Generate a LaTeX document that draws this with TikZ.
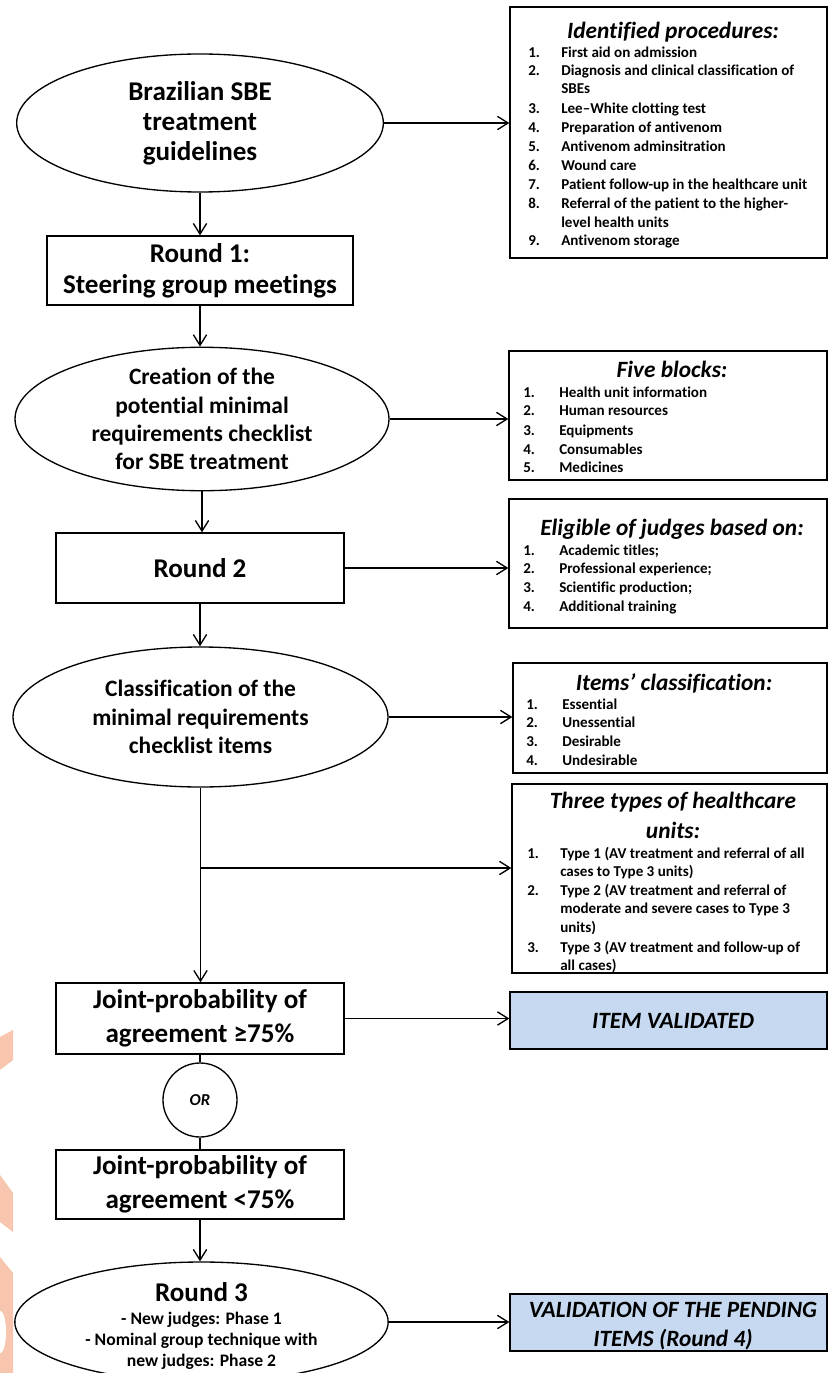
\documentclass[tikz,border=0pt]{standalone}
\usepackage{fontspec}
\setmainfont[Ligatures=NoCommon]{Carlito}
\usetikzlibrary{arrows.meta,shapes.geometric}
\definecolor{wm}{HTML}{F8C6AE}
\definecolor{lblue}{HTML}{C6D9F1}
\begin{document}
\begin{tikzpicture}[x=0.75pt,y=-0.75pt,
  arr/.style={line width=1pt,-{Straight Barb[length=8pt,width=10pt]}},
  conn/.style={line width=1pt},
  ell/.style={ellipse,draw,line width=1pt,inner sep=0pt,align=center,font=\bfseries\fontsize{17.6}{21.2}\selectfont},
  bigell/.style={ell,font=\bfseries\fontsize{20.3}{22.5}\selectfont},
  lbox/.style={rectangle,draw,line width=1pt,inner sep=0pt,align=center,font=\bfseries\fontsize{20.3}{23}\selectfont},
  jbox/.style={lbox,font=\bfseries\fontsize{20.3}{25.5}\selectfont},
  rbox/.style={rectangle,draw,line width=1pt,inner sep=0pt},
  bluebox/.style={rbox,fill=lblue},
  ttl/.style={inner sep=0pt,anchor=mid,yshift=-3.75pt,font=\bfseries\itshape\fontsize{17.5}{23}\selectfont},
  num/.style={inner sep=0pt,anchor=mid west,yshift=-1.5pt,font=\bfseries\fontsize{11.3}{13}\selectfont},
  itm/.style={num},
  sub/.style={inner sep=0pt,anchor=mid,yshift=-2.25pt,font=\bfseries\fontsize{13.2}{15.75}\selectfont}
]
\useasboundingbox (0,0) rectangle (828,1373);
\clip (0,0) rectangle (828,1373);
\fill[white] (0,0) rectangle (828,1373);

% watermark fragments
\fill[wm] (0,1037) -- (13,1030) -- (13,1060) -- (0,1070) -- cycle;
\fill[wm] (0,1175) -- (13,1193) -- (13,1232) -- (0,1222) -- cycle;
\fill[wm] (0,1257) -- (13,1273) -- (13,1373) -- (0,1373) -- cycle;
\fill[white] (0,1332) ellipse [x radius=4.5pt, y radius=16pt];

% left column
\node[bigell,minimum width=275pt,minimum height=103.5pt] (e1) at (200,123) {Brazilian SBE\\treatment\\guidelines};
\node[lbox,minimum width=229.5pt,minimum height=51.75pt] (r1) at (200,270.5) {Round 1:\\Steering group meetings};
\node[ell,minimum width=280.5pt,minimum height=103.5pt] (e2) at (202,419) {Creation of the\\potential minimal\\requirements checklist\\for SBE treatment};
\node[lbox,minimum width=216pt,minimum height=52.5pt] (r2) at (200,568) {Round 2};
\node[ell,minimum width=281.25pt,minimum height=105pt] (e3) at (200.5,717) {Classification of the\\minimal requirements\\checklist items};
\node[jbox,minimum width=216pt,minimum height=53.25pt] (j1) at (200,1018.5) {Joint-probability of\\agreement ≥75\%};
\node[circle,draw,line width=1pt,inner sep=0pt,minimum size=55.5pt,font=\bfseries\itshape\fontsize{12.5}{14}\selectfont] (or) at (200,1100) {OR};
\node[jbox,minimum width=216pt,minimum height=51.75pt] (j2) at (200,1184.5) {Joint-probability of\\agreement <75\%};
\node[ellipse,draw,line width=1pt,inner sep=0pt,minimum width=280pt,minimum height=90pt] (e4) at (201.5,1322) {};
\node[inner sep=0pt,anchor=mid,yshift=-4.5pt,font=\bfseries\fontsize{20.3}{23}\selectfont] (e4a) at (201.5,1292) {Round 3};
\node[sub] (e4b) at (201.5,1318) {- New judges: Phase 1};
\node[sub] (e4c) at (201.5,1339) {- Nominal group technique with};
\node[sub] (e4d) at (201.5,1360) {new judges: Phase 2};

% right column boxes
\node[rbox,minimum width=237.75pt,minimum height=188.25pt] (A) at (668.5,132.5) {};
\node[rbox,minimum width=238.5pt,minimum height=96.75pt] (B) at (668,415.5) {};
\node[rbox,minimum width=238.5pt,minimum height=96.75pt] (C) at (668,563.5) {};
\node[rbox,minimum width=235.5pt,minimum height=82.5pt] (D) at (670,718) {};
\node[rbox,minimum width=236.25pt,minimum height=141.75pt] (E) at (669.5,878.5) {};
\node[bluebox,minimum width=237.75pt,minimum height=42.75pt] (IV) at (668.5,1020.5) {};
\node[bluebox,minimum width=237.75pt,minimum height=42.75pt] (VP) at (668.5,1322.5) {};

% box A text
\node[ttl] (At) at (673,30) {Identified procedures:};
\foreach \n/\t/\yy [count=\k] in {1./First aid on admission/52, 2./Diagnosis and clinical classification of/70, 3./Lee–White clotting test/108, 4./Preparation of antivenom/127, 5./Antivenom adminsitration/146, 6./Wound care/165, 7./Patient follow-up in the healthcare unit/184, 8./Referral of the patient to the higher-/203, 9./Antivenom storage/240} {
  \node[num] (An\k) at (528,\yy) {\n};
  \node[itm] (Ai\k) at (561,\yy) {\t};
}
\node[itm] (Ac1) at (561,88) {SBEs};
\node[itm] (Ac2) at (561,222) {level health units};

% box B text
\node[ttl] (Bt) at (672,369) {Five blocks:};
\foreach \n/\t/\yy [count=\k] in {1./Health unit information/392, 2./Human resources/410, 3./Equipments/430, 4./Consumables/449, 5./Medicines/467} {
  \node[num] (Bn\k) at (523,\yy) {\n};
  \node[itm] (Bi\k) at (559,\yy) {\t};
}

% box C text
\node[ttl] (Ct) at (672,527) {Eligible of judges based on:};
\foreach \n/\t/\yy [count=\k] in {1./Academic titles;/550, 2./Professional experience;/568, 3./Scientific production;/587, 4./Additional training/606} {
  \node[num] (Cn\k) at (523,\yy) {\n};
  \node[itm] (Ci\k) at (559,\yy) {\t};
}

% box D text
\node[ttl] (Dt) at (674,682) {Items’ classification:};
\foreach \n/\t/\yy [count=\k] in {1./Essential/704, 2./Unessential/722, 3./Desirable/741, 4./Undesirable/760} {
  \node[num] (Dn\k) at (526,\yy) {\n};
  \node[itm] (Di\k) at (562,\yy) {\t};
}

% box E text
\node[ttl] (Et1) at (673,800) {Three types of healthcare};
\node[ttl] (Et2) at (673,830) {units:};
\foreach \n/\t/\yy [count=\k] in {1./Type 1 (AV treatment and referral of all/853, 2./Type 2 (AV treatment and referral of/890, 3./Type 3 (AV treatment and follow-up of/947} {
  \node[num] (En\k) at (527,\yy) {\n};
  \node[itm] (Ei\k) at (560,\yy) {\t};
}
\node[itm] (Ec1) at (560,871) {cases to Type 3 units)};
\node[itm] (Ec2) at (560,908) {moderate and severe cases to Type 3};
\node[itm] (Ec3) at (560,927) {units)};
\node[itm] (Ec4) at (560,965) {all cases)};

% blue boxes text
\node[ttl] (IVt) at (673,1020.5) {ITEM VALIDATED};
\node[ttl] (VPt1) at (673,1309) {VALIDATION OF THE PENDING};
\node[ttl] (VPt2) at (673,1338) {ITEMS (Round 4)};

% connectors
\draw[arr] (e1.south) -- (e1.south |- r1.north);
\draw[arr] (r1.south) -- (r1.south |- e2.north);
\draw[arr] (e2.south) -- (e2.south |- r2.north);
\draw[arr] (r2.south) -- (r2.south |- e3.north);
\draw[arr] (e3.south) -- (e3.south |- j1.north);
\coordinate (br) at (200,868);
\draw[arr] (br) -- (br -| E.west);
\draw[conn] (j1.south) -- (or.north);
\draw[conn] (or.south) -- (j2.north);
\draw[arr] (j2.south) -- (j2.south |- e4.north);

\draw[arr] (e1.east) -- (e1.east -| A.west);
\draw[arr] (e2.east) -- (e2.east -| B.west);
\draw[arr] (r2.east) -- (r2.east -| C.west);
\draw[arr] (e3.east) -- (e3.east -| D.west);
\draw[arr] (j1.east) -- (j1.east -| IV.west);
\draw[arr] (e4.east) -- (e4.east -| VP.west);
\end{tikzpicture}
\end{document}
